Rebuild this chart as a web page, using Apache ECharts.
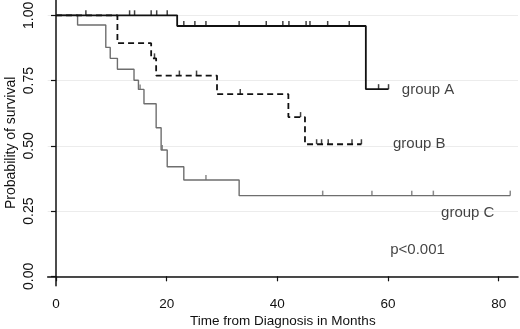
<!DOCTYPE html>
<html>
<head>
<meta charset="utf-8">
<script src="https://cdn.jsdelivr.net/npm/echarts@6/dist/echarts.min.js"></script>
<style>
html, body { margin: 0; padding: 0; background: #fff; }
#chart { width: 520px; height: 329px; }
</style>
</head>
<body>
<div id="chart"></div>
<script>
// Kaplan-Meier survival curves (step points: [month, probability])
var groupA = [[0, 1], [21.9, 0.959], [56.0, 0.717], [60.1, 0.717]];
var groupB = [[0, 1], [11.1, 0.893], [17.2, 0.835], [18.1, 0.769], [29.1, 0.698], [42.0, 0.610], [45.0, 0.506], [55.2, 0.506]];
var groupC = [[0, 1], [3.9, 0.963], [9.0, 0.877], [9.8, 0.835], [11.1, 0.793], [14.1, 0.751], [14.9, 0.716],
	[15.9, 0.661], [18.1, 0.569], [19.0, 0.484], [20.1, 0.420], [23.1, 0.369], [33.1, 0.309], [82.1, 0.309]];

// censored observations
var censorA = [[5.4, 1], [13.3, 1], [14.2, 1], [17.2, 1], [18.2, 1], [20.1, 1],
	[23.1, 0.959], [25.1, 0.959], [27.1, 0.959], [33.1, 0.959], [38.0, 0.959], [41.0, 0.959], [42.1, 0.959],
	[45.2, 0.959], [45.9, 0.959], [49.1, 0.959], [53.0, 0.959], [58.3, 0.717], [60.1, 0.717]];
var censorB = [[17.8, 0.835], [22.3, 0.769], [25.4, 0.769], [33.3, 0.698], [44.2, 0.610],
	[47.1, 0.506], [48.0, 0.506], [49.2, 0.506], [53.5, 0.506], [55.2, 0.506]];
var censorC = [[15.2, 0.716], [19.2, 0.484], [27.1, 0.369], [48.2, 0.309], [57.1, 0.309], [64.3, 0.309], [68.2, 0.309], [82.1, 0.309]];

var xTicks = [0, 20, 40, 60, 80];
var yTicks = [0, 0.25, 0.5, 0.75, 1];

// text annotations [month, probability, text]
var notes = [[62.5, 0.714, 'group A'], [60.9, 0.507, 'group B'], [69.6, 0.2425, 'group C'], [60.4, 0.101, 'p<0.001']];

var colA = '#111111', colB = '#111111', colC = '#6e6e6e';

function censorSeries(name, data, color) {
	return {
		name: name,
		type: 'scatter',
		data: data,
		symbol: 'rect',
		symbolSize: [1.5, 5],
		symbolOffset: [0, -2.5],
		itemStyle: { color: color },
		silent: true,
		z: 4
	};
}

var container = echarts.init(document.getElementById('chart'));
var option = {
	animation: false,
	textStyle: { fontFamily: 'Liberation Sans, Arial, sans-serif' },
	grid: { left: 47.7, right: 2, top: 0, bottom: 43.3, containLabel: false, outerBoundsMode: 'none' },
	xAxis: {
		type: 'value',
		min: -1.5,
		max: 83.5,
		name: 'Time from Diagnosis in Months',
		nameLocation: 'middle',
		nameGap: 29,
		nameMoveOverlap: false,
		nameTextStyle: { fontSize: 13.5, color: '#111' },
		axisLine: { lineStyle: { color: '#111', width: 1.5 } },
		axisTick: { customValues: xTicks, length: 5, lineStyle: { color: '#111', width: 1.2 } },
		axisLabel: { customValues: xTicks, fontSize: 13.5, color: '#111', margin: 12 },
		splitLine: { show: false }
	},
	yAxis: {
		type: 'value',
		min: -0.036,
		max: 1.0586,
		name: 'Probability of survival',
		nameLocation: 'middle',
		nameGap: 30,
		nameMoveOverlap: false,
		nameTextStyle: { fontSize: 14, color: '#111' },
		axisLine: { show: true, lineStyle: { color: '#111', width: 1.5 } },
		axisTick: { show: true, customValues: yTicks, length: 5, lineStyle: { color: '#111', width: 1.2 } },
		axisLabel: {
			customValues: yTicks, fontSize: 14, color: '#111', rotate: 90, margin: 12,
			formatter: function (v) { return v.toFixed(2); }
		},
		splitLine: { show: false }
	},
	series: [
		{
			name: 'grid',
			type: 'line',
			data: [],
			silent: true,
			z: 0,
			markLine: {
				silent: true,
				symbol: 'none',
				z: 0,
				label: { show: false },
				lineStyle: { color: '#ececec', width: 1, type: 'solid' },
				data: yTicks.map(function (v) { return { yAxis: v }; })
			}
		},
		{
			name: 'group A', type: 'line', step: 'end', data: groupA, showSymbol: false,
			lineStyle: { color: colA, width: 1.8 }, z: 3
		},
		{
			name: 'group B', type: 'line', step: 'end', data: groupB, showSymbol: false,
			lineStyle: { color: colB, width: 1.8, type: [6, 4] }, z: 3
		},
		{
			name: 'group C', type: 'line', step: 'end', data: groupC, showSymbol: false,
			lineStyle: { color: colC, width: 1.4 }, z: 2
		},
		censorSeries('censor A', censorA, colA),
		censorSeries('censor B', censorB, colB),
		censorSeries('censor C', censorC, colC),
		{
			name: 'notes',
			type: 'scatter',
			symbolSize: 0,
			silent: true,
			z: 10,
			data: notes.map(function (n) { return { value: [n[0], n[1]], name: n[2] }; }),
			label: {
				show: true,
				position: 'right',
				distance: 0,
				formatter: '{b}',
				fontSize: 15,
				color: '#111'
			}
		}
	]
};
container.setOption(option, true);
</script>
</body>
</html>
